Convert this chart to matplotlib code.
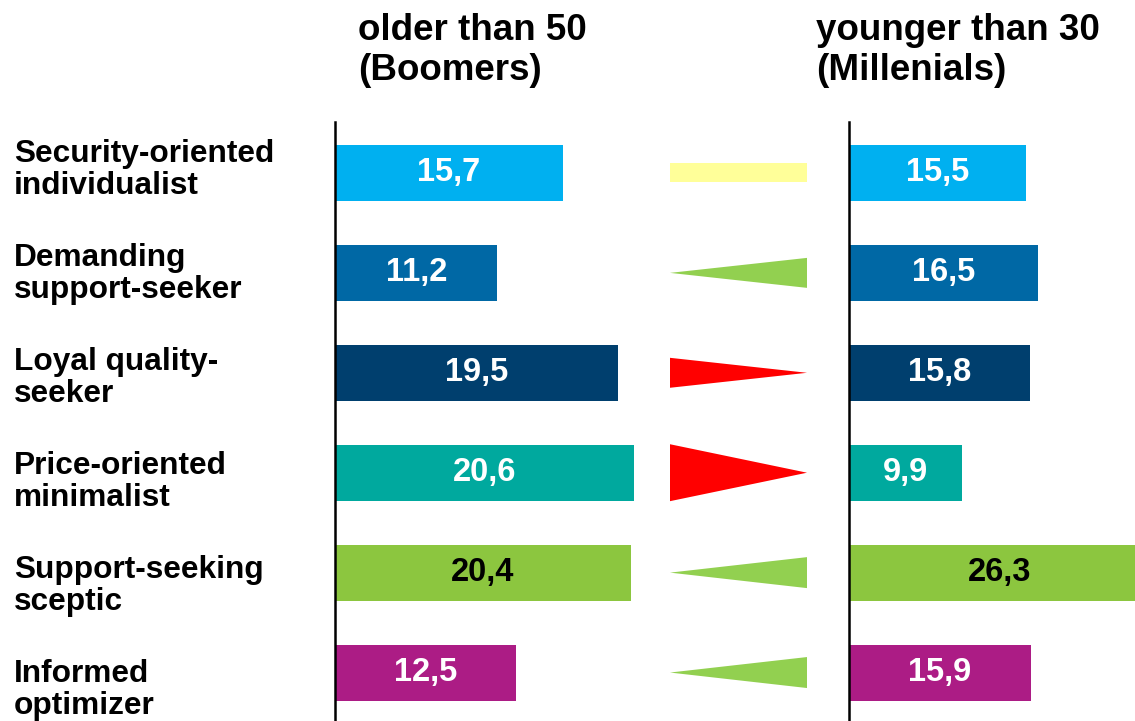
import matplotlib.pyplot as plt
from matplotlib.patches import Polygon, Rectangle

plt.rcParams['font.family'] = ['Liberation Sans', 'DejaVu Sans']

segments = ['Security-oriented\nindividualist', 'Demanding\nsupport-seeker',
            'Loyal quality-\nseeker', 'Price-oriented\nminimalist',
            'Support-seeking\nsceptic', 'Informed\noptimizer']
boomers = [15.7, 11.2, 19.5, 20.6, 20.4, 12.5]
millenials = [15.5, 16.5, 15.8, 9.9, 26.3, 15.9]
colors = ['#00B0F0', '#0068A5', '#003F6E', '#00A99E', '#8CC63F', '#AC1C85']
label_colors = ['white', 'white', 'white', 'white', 'black', 'white']
# height of the change marker in the middle column (row units)
marker_height = [0.19, 0.30, 0.30, 0.57, 0.31, 0.31]

W, H = 1135, 721
fig = plt.figure(figsize=(W / 100, H / 100), dpi=100)

def px_axes(x0, x1, y0, y1):
    return fig.add_axes([x0 / W, 1 - y1 / H, (x1 - x0) / W, (y1 - y0) / H])

ylim = (5.485, -0.51)
ax_l = px_axes(335, 654, 122, 721)
ax_m = px_axes(670, 807, 122, 721)
ax_r = px_axes(849, 1135, 122, 721)

rows = range(len(segments))
for ax, vals, xmax in [(ax_l, boomers, 22.0), (ax_r, millenials, 25.0)]:
    ax.barh(rows, vals, height=0.56, color=colors)
    ax.set_xlim(0, xmax)
    ax.set_ylim(*ylim)
    for s in ['top', 'right', 'bottom']:
        ax.spines[s].set_visible(False)
    ax.spines['left'].set_linewidth(1.8)
    ax.set_xticks([])
    ax.set_yticks([])
    for i, v in enumerate(vals):
        ax.text(v / 2, i, f'{v:.1f}'.replace('.', ','), ha='center', va='center',
                fontsize=23.5, fontweight='bold', color=label_colors[i])

ax_m.set_xlim(0, 1)
ax_m.set_ylim(*ylim)
ax_m.axis('off')
for i in rows:
    d = millenials[i] - boomers[i]
    h = marker_height[i] / 2
    if abs(d) < 0.5:
        ax_m.add_patch(Rectangle((0, i - h), 1, 2 * h, color='#FFFF99', lw=0))
    elif d > 0:
        ax_m.add_patch(Polygon([(0, i), (1, i - h), (1, i + h)], color='#92D050', lw=0))
    else:
        ax_m.add_patch(Polygon([(0, i - h), (0, i + h), (1, i)], color='#FF0000', lw=0))

for i, s in enumerate(segments):
    fig.text(14 / W, 1 - (170 + 104 * i) / H, s, ha='left', va='center',
             fontsize=22.8, fontweight='bold', linespacing=1.12)

fig.text(358 / W, 1 - 13 / H, 'older than 50\n(Boomers)', ha='left', va='top',
         fontsize=26.5, fontweight='bold', linespacing=1.2)
fig.text(816 / W, 1 - 13 / H, 'younger than 30\n(Millenials)', ha='left', va='top',
         fontsize=26.5, fontweight='bold', linespacing=1.2)

fig.savefig('out.png', dpi=100)
